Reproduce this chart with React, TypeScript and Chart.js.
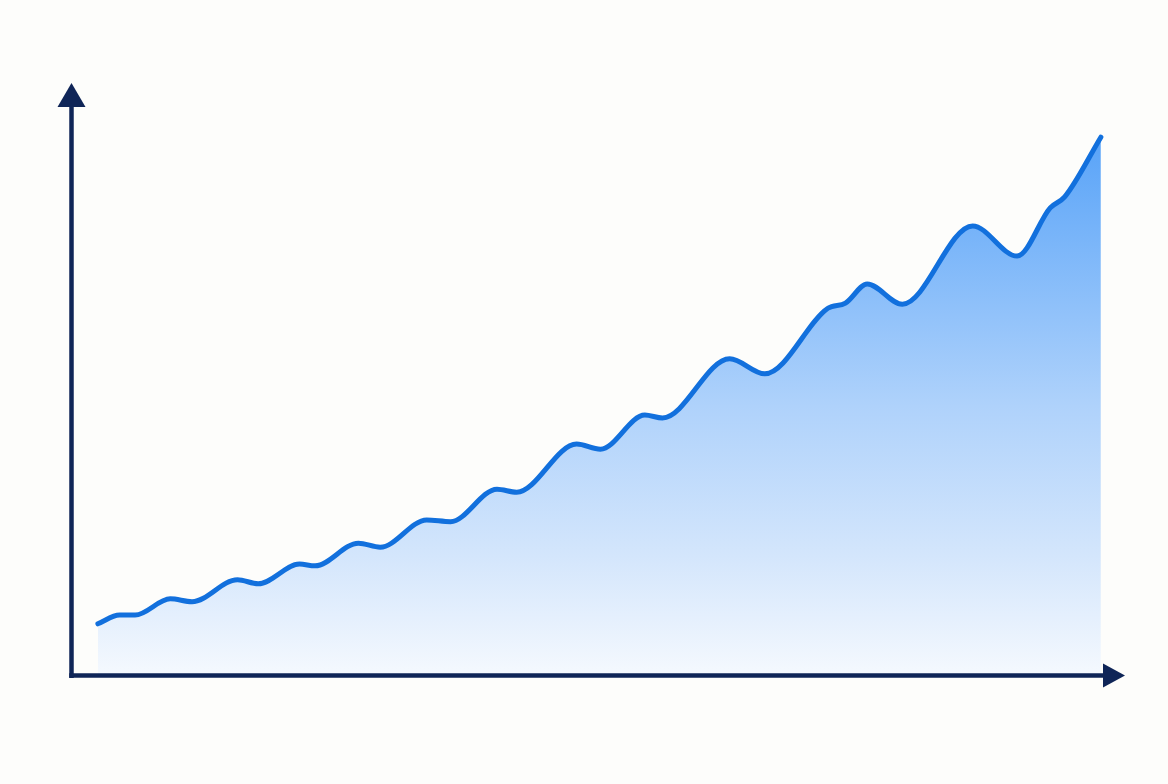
import { useEffect, useRef } from 'react';
import { Chart, registerables } from 'chart.js';

Chart.register(...registerables);

// position along the x axis (0-100) and value (0-100) of each traced point
const xPositions = [
  2.6, 4.7, 6.2, 9.6, 11.7, 16.1, 18.1, 22.1, 23.6, 27.8, 29.9, 34.4, 36.7, 41.2, 43.1,
  48.9, 51.2, 55.5, 57.2, 63.7, 67.1, 73.2, 74.9, 77.0, 80.4, 87.2, 91.5, 94.7, 96.1, 99.6,
];
const values = [
  9.0, 10.5, 10.5, 13.3, 12.8, 16.6, 15.9, 19.3, 19.0, 22.9, 22.2, 26.9, 26.6, 32.2, 31.7,
  40.0, 39.1, 45.0, 44.5, 54.7, 52.1, 63.4, 64.3, 67.6, 64.1, 77.6, 72.4, 80.7, 82.6, 92.9,
];

const AXIS_COLOR = '#0f2557';
const LINE_COLOR = '#1270dd';

const axisArrows = {
  id: 'axisArrows',
  afterDraw(chart: Chart) {
    const { ctx, chartArea } = chart;
    const { left, right, top, bottom } = chartArea;
    ctx.save();
    ctx.strokeStyle = AXIS_COLOR;
    ctx.fillStyle = AXIS_COLOR;
    ctx.lineWidth = 4.5;
    ctx.lineCap = 'butt';

    // y axis
    ctx.beginPath();
    ctx.moveTo(left + 0.5, bottom + 2);
    ctx.lineTo(left + 0.5, top + 8);
    ctx.stroke();
    ctx.beginPath();
    ctx.moveTo(left + 0.5, top - 13);
    ctx.lineTo(left + 14.5, top + 11);
    ctx.lineTo(left - 13.5, top + 11);
    ctx.closePath();
    ctx.fill();

    // x axis
    ctx.beginPath();
    ctx.moveTo(left - 1.75, bottom - 0.5);
    ctx.lineTo(right - 2, bottom - 0.5);
    ctx.stroke();
    ctx.beginPath();
    ctx.moveTo(right + 20, bottom - 0.5);
    ctx.lineTo(right - 2, bottom - 12.5);
    ctx.lineTo(right - 2, bottom + 11.5);
    ctx.closePath();
    ctx.fill();
    ctx.restore();
  },
};

export default function App() {
  const canvasRef = useRef<HTMLCanvasElement>(null);

  useEffect(() => {
    document.body.style.margin = '0';
    document.body.style.background = '#fdfdfb';
    if (!canvasRef.current) return;

    const chart = new Chart(canvasRef.current, {
      type: 'line',
      data: {
        datasets: [
          {
            data: xPositions.map((x, i) => ({ x, y: values[i] })),
            borderColor: LINE_COLOR,
            borderWidth: 5,
            borderCapStyle: 'round',
            borderJoinStyle: 'round',
            pointRadius: 0,
            cubicInterpolationMode: 'monotone',
            fill: 'origin',
            backgroundColor: (context: any) => {
              const { ctx, chartArea } = context.chart;
              if (!chartArea) return 'rgba(90,160,245,0.5)';
              const g = ctx.createLinearGradient(0, chartArea.top + 40, 0, chartArea.bottom);
              g.addColorStop(0, '#58a3f8');
              g.addColorStop(0.5, '#afd2fb');
              g.addColorStop(0.78, '#d4e6fc');
              g.addColorStop(1, '#f5f9fe');
              return g;
            },
          },
        ],
      },
      options: {
        animation: false,
        responsive: true,
        maintainAspectRatio: false,
        layout: { padding: { left: 71, right: 63, top: 96, bottom: 108 } },
        plugins: { legend: { display: false }, tooltip: { enabled: false } },
        scales: {
          x: { type: 'linear', min: 0, max: 100, display: false },
          y: { min: 0, max: 100, display: false },
        },
      },
      plugins: [axisArrows],
    });

    return () => chart.destroy();
  }, []);

  return (
    <div style={{ width: 1168, height: 784, position: 'relative' }}>
      <canvas ref={canvasRef}></canvas>
    </div>
  );
}
